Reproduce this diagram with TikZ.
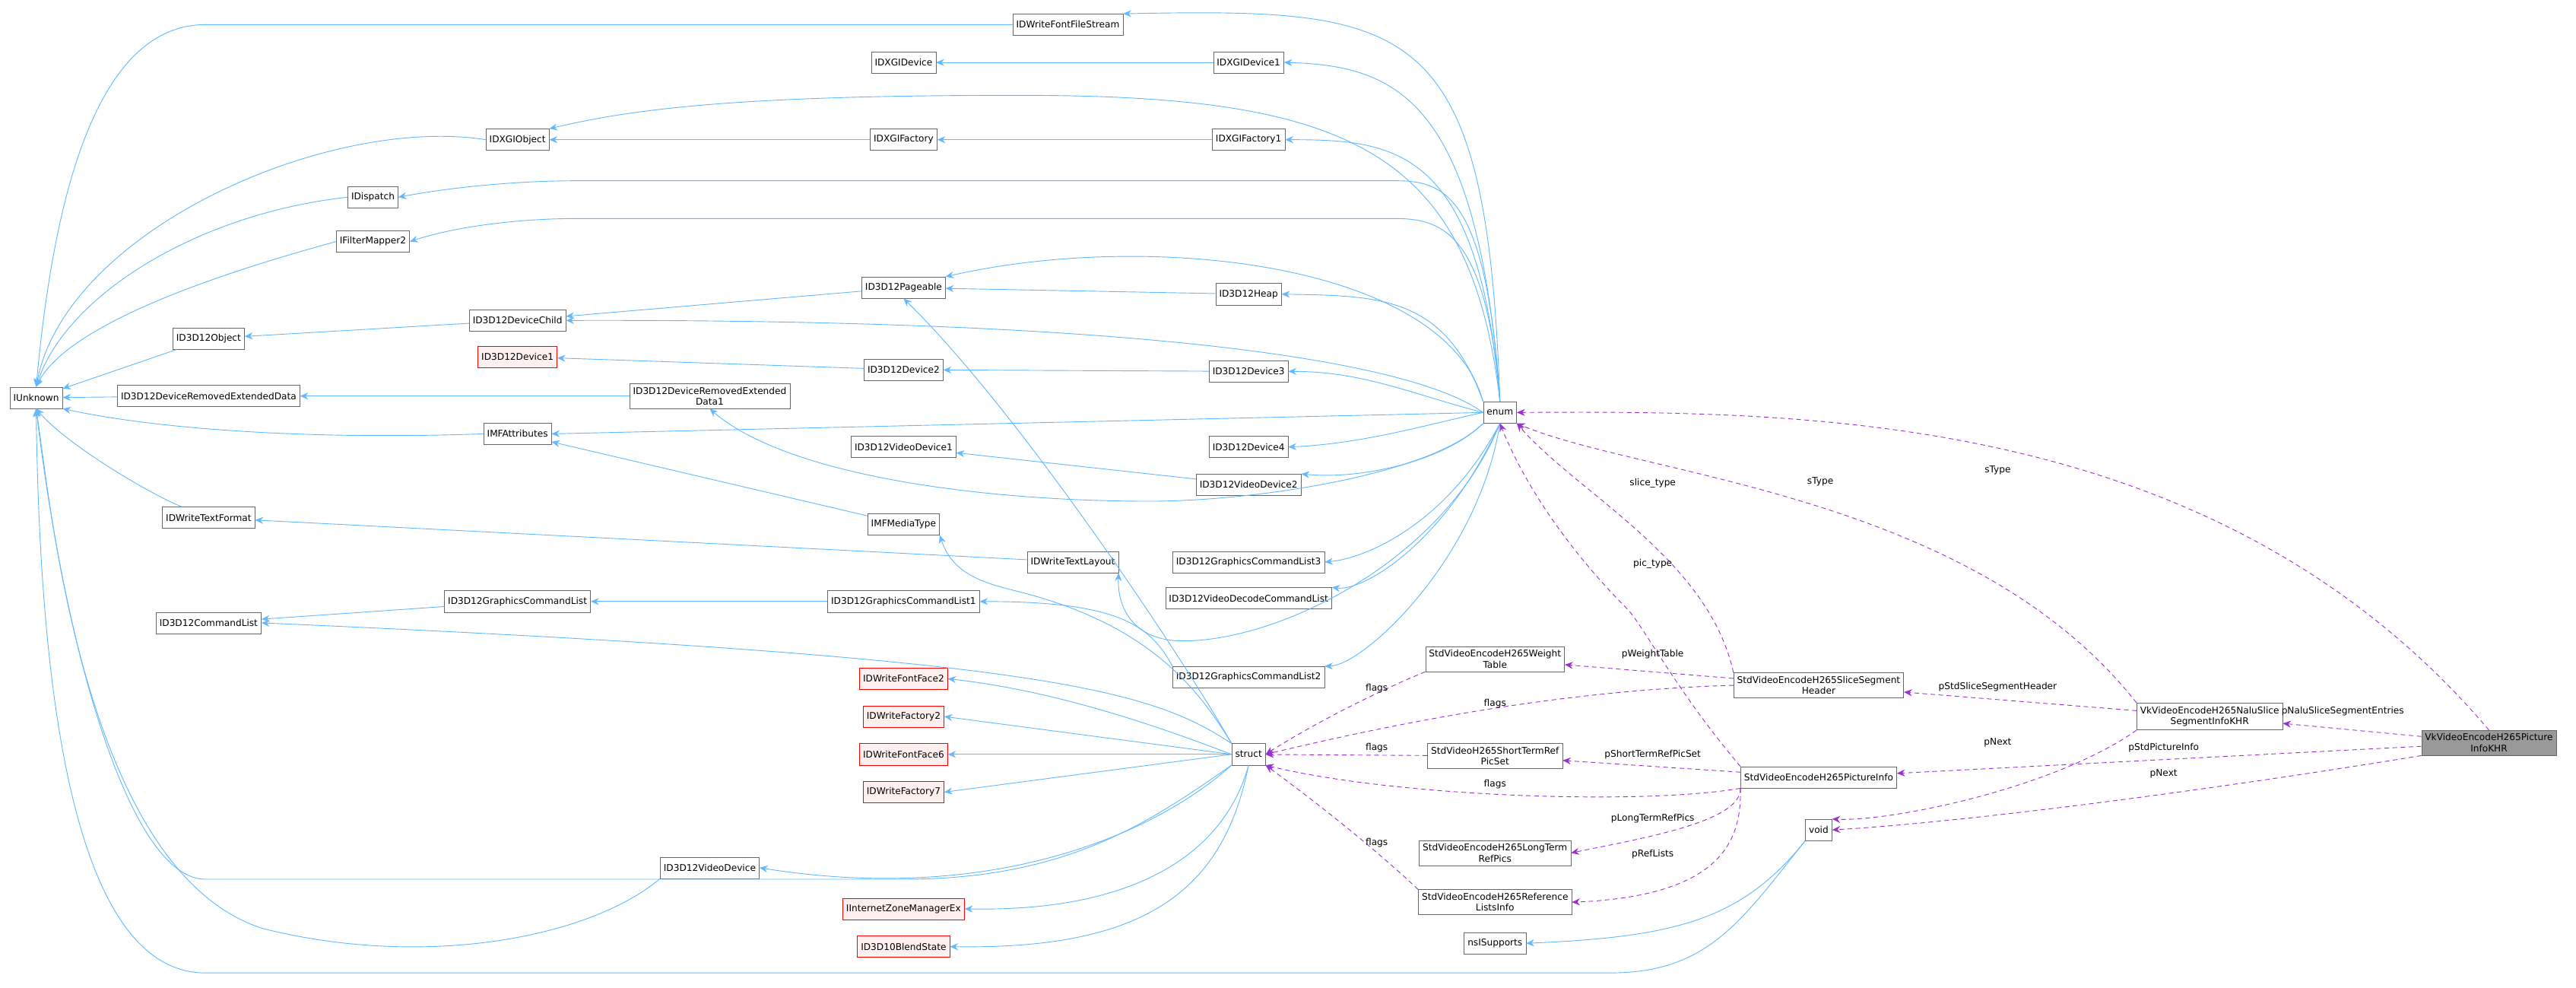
\documentclass[tikz,border=0pt]{standalone}
\usepackage{fontspec}
\setmainfont{DejaVu Sans}
\usetikzlibrary{arrows.meta}
\definecolor{inhblue}{HTML}{63B8FF}
\definecolor{usepurple}{HTML}{9A32CD}
\begin{document}
\begin{tikzpicture}[x=0.05cm,y=-0.05cm]
    \tikzstyle{cls}=[draw=black!60,fill=white,font=\fontsize{8}{9.5}\selectfont,inner sep=3pt,minimum height=0.65cm,align=center]
    \tikzstyle{miss}=[cls,draw=red,fill=red!6]
    \tikzstyle{this}=[cls,fill=black!40]
    \tikzstyle{inh}=[draw=inhblue,line width=0.6pt,-{Stealth[length=7pt,width=6pt]}]
    \tikzstyle{use}=[draw=usepurple,line width=0.6pt,dashed,dash pattern=on 4pt off 3pt,-{Stealth[length=7pt,width=6pt]}]
    \tikzstyle{lbl}=[font=\fontsize{8}{9.5}\selectfont,inner sep=1pt]
    \useasboundingbox (0,0) rectangle (1568,601);

    % Left column
    \node[cls] (IUnknown) at (22,242) {IUnknown};
    \node[cls] (RemData) at (127,241) {ID3D12DeviceRemovedExtendedData};
    \node[cls] (Obj) at (127,206) {ID3D12Object};
    \node[cls] (TextFormat) at (127,315) {IDWriteTextFormat};
    \node[cls] (CmdList) at (127,379) {ID3D12CommandList};
    % Second column
    \node[cls] (DXGIObj) at (315,85) {IDXGIObject};
    \node[cls] (Dispatch) at (227,120) {IDispatch};
    \node[cls] (Filter) at (227,147) {IFilterMapper2};
    \node[cls] (DevChild) at (315,195) {ID3D12DeviceChild};
    \node[miss] (Dev1) at (315,217) {ID3D12Device1};
    \node[cls] (RemData1) at (432,241) {ID3D12DeviceRemovedExtended\\Data1};
    \node[cls] (MFAttr) at (315,264) {IMFAttributes};
    \node[cls] (GfxList) at (315,366) {ID3D12GraphicsCommandList};
    \node[cls] (VidDev) at (432,528) {ID3D12VideoDevice};
    % Third column
    \node[cls] (FontStream) at (650,15) {IDWriteFontFileStream};
    \node[cls] (DXGIDev) at (550,38) {IDXGIDevice};
    \node[cls] (DXGIFac) at (550,85) {IDXGIFactory};
    \node[cls] (Pageable) at (550,175) {ID3D12Pageable};
    \node[cls] (Dev2) at (550,225) {ID3D12Device2};
    \node[cls] (VidDev1) at (550,272) {ID3D12VideoDevice1};
    \node[cls] (MediaType) at (550,319) {IMFMediaType};
    \node[cls] (TextLayout) at (653,342) {IDWriteTextLayout};
    \node[cls] (GfxList1) at (550,366) {ID3D12GraphicsCommandList1};
    \node[miss] (FontFace2) at (550,413) {IDWriteFontFace2};
    \node[miss] (Factory2) at (550,436) {IDWriteFactory2};
    \node[miss] (FontFace6) at (550,459) {IDWriteFontFace6};
    \node[miss] (Factory7) at (550,482) {IDWriteFactory7};
    \node[miss] (ZoneMgr) at (550,553) {IInternetZoneManagerEx};
    \node[miss] (Blend) at (550,576) {ID3D10BlendState};
    % Fourth column
    \node[cls] (DXGIDev1) at (760,38) {IDXGIDevice1};
    \node[cls] (DXGIFac1) at (760,85) {IDXGIFactory1};
    \node[cls] (Heap) at (760,179) {ID3D12Heap};
    \node[cls] (Dev3) at (760,226) {ID3D12Device3};
    \node[cls] (Dev4) at (760,272) {ID3D12Device4};
    \node[cls] (VidDev2) at (760,295) {ID3D12VideoDevice2};
    \node[cls] (GfxList3) at (760,342) {ID3D12GraphicsCommandList3};
    \node[cls] (DecList) at (760,364) {ID3D12VideoDecodeCommandList};
    \node[cls] (GfxList2) at (760,412) {ID3D12GraphicsCommandList2};
    \node[cls] (struct) at (760,459) {struct};
    \node[cls] (enum) at (913,251) {enum};
    % Right part
    \node[cls] (Weight) at (910,401) {StdVideoEncodeH265Weight\\Table};
    \node[cls] (ShortRef) at (910,460) {StdVideoH265ShortTermRef\\PicSet};
    \node[cls] (LongRef) at (910,519) {StdVideoEncodeH265LongTerm\\RefPics};
    \node[cls] (RefLists) at (910,549) {StdVideoEncodeH265Reference\\ListsInfo};
    \node[cls] (nsI) at (910,574) {nsISupports};
    \node[cls] (SliceHdr) at (1107,417) {StdVideoEncodeH265SliceSegment\\Header};
    \node[cls] (PicInfo) at (1107,473) {StdVideoEncodeH265PictureInfo};
    \node[cls] (void) at (1107,505) {void};
    \node[cls] (Nalu) at (1345,436) {VkVideoEncodeH265NaluSlice\\SegmentInfoKHR};
    \node[this] (VkPic) at (1515,452) {VkVideoEncodeH265Picture\\InfoKHR};

    % Inheritance into IUnknown
    \draw[inh] (FontStream.west) -- (125,15) .. controls (50,15) and (30,150) .. (IUnknown.north);
    \draw[inh] (DXGIObj.west) .. controls (200,70) and (40,140) .. (IUnknown.north);
    \draw[inh] (Dispatch.west) .. controls (120,130) and (40,180) .. (IUnknown.north);
    \draw[inh] (Filter.west) .. controls (120,170) and (40,200) .. (IUnknown.north);
    \draw[inh] (Obj) -- (IUnknown);
    \draw[inh] (RemData) -- (IUnknown);
    \draw[inh] (MFAttr.west) .. controls (180,268) and (90,260) .. (IUnknown.south east);
    \draw[inh] (TextFormat) .. controls (90,300) and (40,270) .. (IUnknown.south);
    \draw[inh] (struct.south west) .. controls (700,500) and (650,535) .. (550,535) -- (125,535) .. controls (80,535) and (40,400) .. (IUnknown.south);
    \draw[inh] (VidDev.south west) .. controls (360,570) and (260,590) .. (160,565) .. controls (50,530) and (30,300) .. (IUnknown.south);
    \draw[inh] (void.south west) .. controls (1060,560) and (1040,592) .. (980,592) -- (125,592) .. controls (40,592) and (24,400) .. (IUnknown.south);
    % Other inheritance
    \draw[inh] (DXGIDev1) -- (DXGIDev);
    \draw[inh] (DXGIFac) -- (DXGIObj);
    \draw[inh] (DXGIFac1) -- (DXGIFac);
    \draw[inh] (DevChild) -- (Obj);
    \draw[inh] (Pageable) -- (DevChild);
    \draw[inh] (Heap) -- (Pageable);
    \draw[inh] (Dev2) -- (Dev1);
    \draw[inh] (Dev3) -- (Dev2);
    \draw[inh] (RemData1) -- (RemData);
    \draw[inh] (MediaType) -- (MFAttr);
    \draw[inh] (VidDev2) -- (VidDev1);
    \draw[inh] (TextLayout) -- (TextFormat);
    \draw[inh] (GfxList) -- (CmdList);
    \draw[inh] (GfxList1) -- (GfxList);
    \draw[inh] (GfxList2.north west) .. controls (700,380) and (680,366) .. (GfxList1.east);
    \draw[inh] (void.south west) .. controls (1060,560) and (1020,570) .. (nsI.east);
    % enum
    \draw[inh] (enum.north) .. controls (905,10) and (860,5) .. (FontStream.north east);
    \draw[inh] (enum.north) .. controls (900,60) and (850,40) .. (DXGIDev1.east);
    \draw[inh] (enum.north) .. controls (895,90) and (820,58) .. (620,58) .. controls (460,58) and (390,65) .. (DXGIObj.north east);
    \draw[inh] (enum.north) .. controls (900,90) and (850,85) .. (DXGIFac1.east);
    \draw[inh] (enum.north) .. controls (905,120) and (880,110) .. (850,110) -- (350,110) .. controls (320,110) and (280,113) .. (Dispatch.east);
    \draw[inh] (enum.north) .. controls (905,145) and (880,133) .. (850,133) -- (350,133) .. controls (320,133) and (280,137) .. (Filter.east);
    \draw[inh] (enum.north west) .. controls (880,160) and (700,140) .. (Pageable.north east);
    \draw[inh] (enum.north west) .. controls (880,180) and (840,180) .. (Heap.east);
    \draw[inh] (enum.west) .. controls (860,220) and (700,194) .. (DevChild.east);
    \draw[inh] (enum.west) .. controls (860,240) and (830,226) .. (Dev3.east);
    \draw[inh] (enum.west) -- (MFAttr.east);
    \draw[inh] (enum.west) .. controls (870,258) and (830,270) .. (Dev4.east);
    \draw[inh] (enum.south west) .. controls (880,280) and (830,292) .. (VidDev2.north east);
    \draw[inh] (enum.south west) .. controls (870,290) and (760,305) .. (700,305) .. controls (600,305) and (480,290) .. (RemData1.south);
    \draw[inh] (enum.south) .. controls (880,320) and (830,340) .. (GfxList3.east);
    \draw[inh] (enum.south) .. controls (880,330) and (830,360) .. (DecList.north east);
    \draw[inh] (enum.south) .. controls (880,340) and (780,390) .. (720,390) .. controls (690,390) and (680,370) .. (TextLayout.south east);
    \draw[inh] (enum.south) .. controls (900,340) and (830,405) .. (GfxList2.north east);
    % struct
    \draw[inh] (struct.north west) .. controls (720,400) and (620,250) .. (Pageable.south);
    \draw[inh] (struct.north west) .. controls (730,420) and (700,380) .. (620,360) .. controls (600,355) and (580,350) .. (MediaType.south east);
    \draw[inh] (struct.north west) .. controls (700,420) and (640,400) .. (CmdList.east);
    \draw[inh] (struct.west) .. controls (700,440) and (640,420) .. (FontFace2.east);
    \draw[inh] (struct.west) -- (Factory2.east);
    \draw[inh] (struct.west) -- (FontFace6.east);
    \draw[inh] (struct.west) -- (Factory7.east);
    \draw[inh] (struct.south west) .. controls (700,510) and (600,550) .. (VidDev.east);
    \draw[inh] (struct.south) .. controls (745,520) and (690,555) .. (ZoneMgr.east);
    \draw[inh] (struct.south) .. controls (745,540) and (700,578) .. (Blend.east);

    % Usage relations
    \draw[use] (VkPic.north) .. controls (1350,250) and (1100,250) .. (enum.east);
    \draw[use] (VkPic) -- (Nalu);
    \draw[use] (VkPic) -- (PicInfo);
    \draw[use] (VkPic.south west) .. controls (1350,480) and (1200,500) .. (void.east);
    \draw[use] (Nalu.north west) .. controls (1200,300) and (1000,290) .. (enum.south east);
    \draw[use] (Nalu) -- (SliceHdr);
    \draw[use] (Nalu.south west) .. controls (1250,480) and (1150,500) .. (void.north east);
    \draw[use] (SliceHdr.north west) .. controls (1040,340) and (960,300) .. (enum.south east);
    \draw[use] (SliceHdr) -- (Weight);
    \draw[use] (SliceHdr.west) .. controls (950,420) and (850,440) .. (struct.east);
    \draw[use] (PicInfo.north west) .. controls (1020,420) and (1000,380) .. (990,370) .. controls (960,340) and (930,300) .. (enum.south);
    \draw[use] (PicInfo) -- (ShortRef);
    \draw[use] (PicInfo.south west) .. controls (1000,490) and (850,485) .. (struct.south east);
    \draw[use] (PicInfo.south west) .. controls (1060,500) and (1000,510) .. (LongRef.east);
    \draw[use] (PicInfo.south west) .. controls (1060,510) and (1050,545) .. (RefLists.east);
    \draw[use] (Weight.south west) .. controls (840,420) and (800,440) .. (struct.east);
    \draw[use] (ShortRef) -- (struct);
    \draw[use] (RefLists.north west) .. controls (830,510) and (790,480) .. (struct.south east);

    % Labels
    \node[lbl] (l1) at (1216,286) {sType};
    \node[lbl] (l2) at (1108,293) {sType};
    \node[lbl] (l3) at (1006,294) {slice\_type};
    \node[lbl] (l4) at (1006,343) {pic\_type};
    \node[lbl] (l5) at (1006,398) {pWeightTable};
    \node[lbl] (l6) at (1216,418) {pStdSliceSegmentHeader};
    \node[lbl] (l7) at (1426,433) {pNaluSliceSegmentEntries};
    \node[lbl] (l8) at (1216,452) {pNext};
    \node[lbl] (l9) at (1317,455) {pStdPictureInfo};
    \node[lbl] (l10) at (1317,471) {pNext};
    \node[lbl] (l11) at (1006,459) {pShortTermRefPicSet};
    \node[lbl] (l12) at (838,419) {flags};
    \node[lbl] (l13) at (910,428) {flags};
    \node[lbl] (l14) at (838,455) {flags};
    \node[lbl] (l15) at (910,477) {flags};
    \node[lbl] (l16) at (1006,498) {pLongTermRefPics};
    \node[lbl] (l17) at (1006,520) {pRefLists};
    \node[lbl] (l18) at (838,513) {flags};
\end{tikzpicture}
\end{document}
